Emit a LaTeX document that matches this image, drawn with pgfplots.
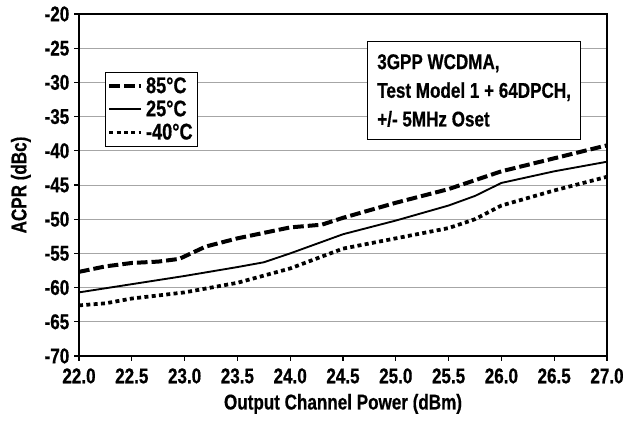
\documentclass[border=0pt]{standalone}
\usepackage{fontspec}
\setmainfont{Liberation Sans}[FakeStretch=0.8, BoldFeatures={FakeBold=0.6}]
\usepackage{pgfplots}
\pgfplotsset{compat=1.18}
\begin{document}
\begin{tikzpicture}
\begin{axis}[
  scale only axis,
  width=396pt, height=256.5pt,
  xmin=22, xmax=27, ymin=-70, ymax=-20,
  xtick={22,22.5,...,27},
  ytick={-70,-65,...,-20},
  xticklabel style={yshift=-2pt, /pgf/number format/.cd,fixed,fixed zerofill,precision=1},
  /pgf/number format/assume math mode=true,
  tick align=outside,
  major tick length=3.75pt,
  xtick pos=bottom, ytick pos=left,
  ymajorgrids,
  major grid style={gray!70, line width=0.6pt},
  axis line style={black, line width=1pt},
  tick style={black, line width=0.8pt},
  font=\fontsize{16}{19}\selectfont\bfseries,
  ticklabel style={font=\fontsize{16}{19}\selectfont\bfseries},
  xlabel={Output Channel Power (dBm)},
  ylabel={ACPR (dBc)},
  xlabel style={font=\fontsize{16}{19}\selectfont\bfseries, yshift=-1pt},
  ylabel style={font=\fontsize{16}{19}\selectfont\bfseries, yshift=3.5pt},
  legend style={at={(rel axis cs:0.049,0.830)}, anchor=north west,
    draw=black, line width=0.8pt, fill=white, inner sep=1.5pt,
    font=\fontsize{17}{17}\selectfont\bfseries, row sep=0pt,
    /tikz/every even column/.append style={column sep=2pt}},
  legend cell align=left,
  legend image code/.code={\draw[#1] (0pt,0pt) -- (24pt,0pt);},
]
\addplot[black, line width=3pt, dash pattern=on 8pt off 3pt] coordinates {
(22.0,-57.7) (22.25,-56.9) (22.5,-56.4) (22.75,-56.2) (22.95,-55.8) (23.2,-54.0)
(23.5,-52.8) (23.75,-52.0) (24.0,-51.2) (24.3,-50.8) (24.5,-49.8) (25.0,-47.6)
(25.5,-45.6) (26.0,-43.0) (26.5,-41.1) (27.0,-39.2)};
\addlegendentry{85°C}
\addplot[black, line width=1.4pt] coordinates {
(22.0,-60.7) (22.5,-59.5) (23.0,-58.3) (23.5,-57.0) (23.75,-56.3) (24.0,-55.0)
(24.5,-52.2) (25.0,-50.2) (25.5,-48.0) (25.75,-46.6) (26.0,-44.7) (26.5,-43.0) (27.0,-41.6)};
\addlegendentry{25°C}
\addplot[black, line width=2.8pt, dash pattern=on 3pt off 2.5pt] coordinates {
(22.0,-62.6) (22.25,-62.3) (22.5,-61.6) (23.0,-60.7) (23.5,-59.3) (24.0,-57.2)
(24.5,-54.3) (25.0,-52.8) (25.5,-51.3) (25.75,-50.0) (26.0,-48.0) (26.5,-45.8) (27.0,-43.8)};
\addlegendentry{-40°C}
\node[draw=black, line width=0.8pt, fill=white, anchor=north west, align=left,
  inner xsep=7.5pt, inner ysep=9.5pt, font=\fontsize{16}{21.5}\selectfont\bfseries]
  at (rel axis cs:0.545,0.921) {3GPP WCDMA,\\Test Model 1 + 64DPCH,\\+/- 5MHz Oset};
\coordinate (bl) at (rel axis cs:0,0);
\coordinate (tr) at (rel axis cs:1,1);
\end{axis}
\pgfresetboundingbox
\path[use as bounding box] ([xshift=-59.25pt,yshift=-48.75pt]bl) rectangle ([xshift=21.75pt,yshift=10.5pt]tr);
\end{tikzpicture}
\end{document}
